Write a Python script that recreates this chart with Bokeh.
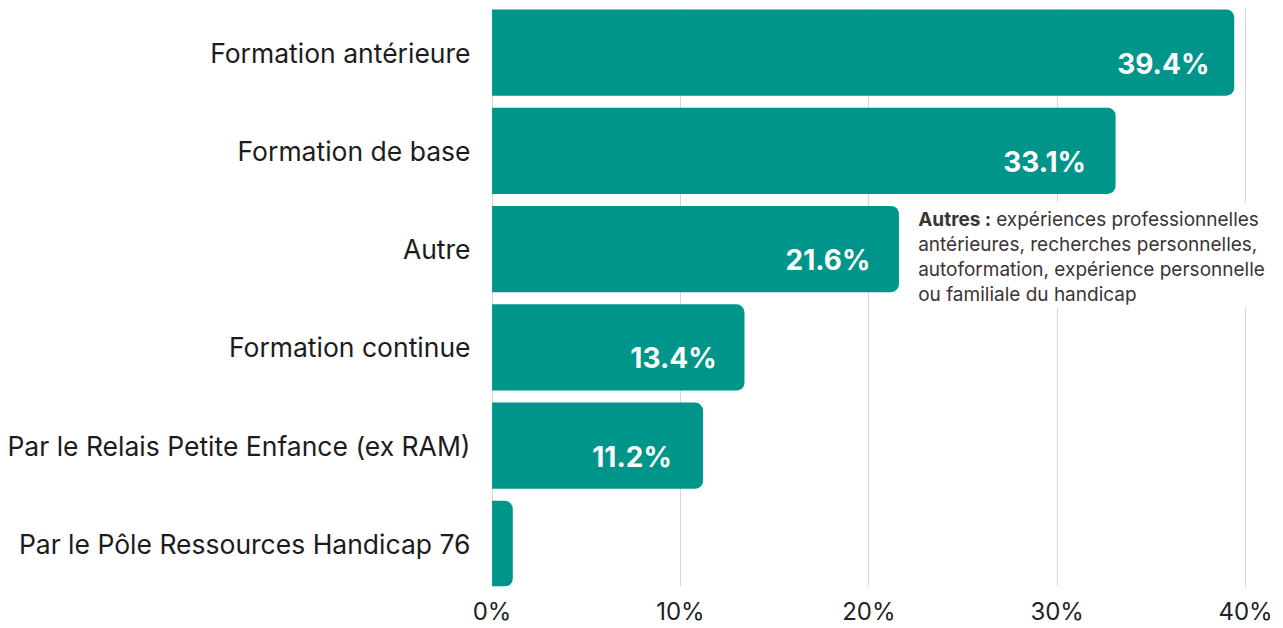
from bokeh.plotting import figure
from bokeh.models import ColumnDataSource, FixedTicker, Range1d, Label, BoxAnnotation
from bokeh.core.properties import value
from bokeh.embed import file_html
from bokeh.resources import INLINE

categories = [
    "Formation antérieure",
    "Formation de base",
    "Autre",
    "Formation continue",
    "Par le Relais Petite Enfance (ex RAM)",
    "Par le Pôle Ressources Handicap 76",
]
values = [39.4, 33.1, 21.6, 13.4, 11.2, 1.1]
value_labels = ["39.4%", "33.1%", "21.6%", "13.4%", "11.2%", ""]
x_ticks = [0, 10, 20, 30, 40]
x_tick_labels = ["0%", "10%", "20%", "30%", "40%"]
note_bold = "Autres :"
note_lines = [
    "expériences professionnelles",
    "antérieures, recherches personnelles,",
    "autoformation, expérience personnelle",
    "ou familiale du handicap",
]

FONT = "Inter"
TEAL = "#00958A"

pos = list(range(len(categories)))
src = ColumnDataSource(dict(y=pos, v=values, lab=value_labels))

p = figure(width=1283, height=628, output_backend="svg", toolbar_location=None,
           x_range=Range1d(-0.03, 41.59), y_range=Range1d(5.433, -0.4485),
           min_border_left=491, min_border_right=8, min_border_top=8,
           min_border_bottom=30)
p.outline_line_color = None
p.background_fill_color = "white"
p.border_fill_color = "white"

p.hbar(y="y", right="v", left=0, height=0.877, source=src, fill_color=TEAL,
       line_color=None, border_radius=(0, 8, 8, 0))

p.text(x="v", y="y", text="lab", source=src, text_color="white",
       text_font=value(FONT), text_font_size="28px", text_font_style="bold",
       text_align="center", text_baseline="middle", x_offset=-71, y_offset=11)

# note box
box = BoxAnnotation(left=21.97, right=42, top=1.529, bottom=2.589,
                    fill_color="white", fill_alpha=1.0, line_color=None,
                    level="underlay")
p.add_layout(box)

nx = 22.62
ny = 1.697
p.add_layout(Label(x=nx, y=ny, text=note_bold, text_font=FONT,
                   text_font_size="19px", text_font_style="bold",
                   text_color="#3b3436", text_baseline="middle"))
for i, line in enumerate(note_lines):
    p.add_layout(Label(x=nx, y=ny + i * 25 / 98.1, text=line, text_font=FONT,
                       text_font_size="19px", text_color="#3b3436",
                       text_baseline="middle", x_offset=(78 if i == 0 else 0)))

p.xgrid.ticker = FixedTicker(ticks=x_ticks)
p.xgrid.grid_line_color = "#d6d6d6"
p.xgrid.grid_line_width = 1
p.ygrid.grid_line_color = None

p.xaxis.ticker = FixedTicker(ticks=x_ticks)
p.xaxis.major_label_overrides = {t: l for t, l in zip(x_ticks, x_tick_labels)}
p.xaxis.axis_line_color = None
p.xaxis.major_tick_line_color = None
p.xaxis.minor_tick_line_color = None
p.xaxis.major_tick_out = 0
p.xaxis.major_label_text_font = FONT
p.xaxis.major_label_text_font_size = "24px"
p.xaxis.major_label_text_color = "#222222"
p.xaxis.major_label_standoff = 10

p.yaxis.ticker = FixedTicker(ticks=pos)
p.yaxis.major_label_overrides = {i: c for i, c in zip(pos, categories)}
p.yaxis.axis_line_color = None
p.yaxis.major_tick_line_color = None
p.yaxis.minor_tick_line_color = None
p.yaxis.major_tick_out = 0
p.yaxis.major_label_text_font = FONT
p.yaxis.major_label_text_font_size = "26.5px"
p.yaxis.major_label_text_color = "#1c1c1c"
p.yaxis.major_label_standoff = 21

open("out.html", "w").write(file_html(p, INLINE))
